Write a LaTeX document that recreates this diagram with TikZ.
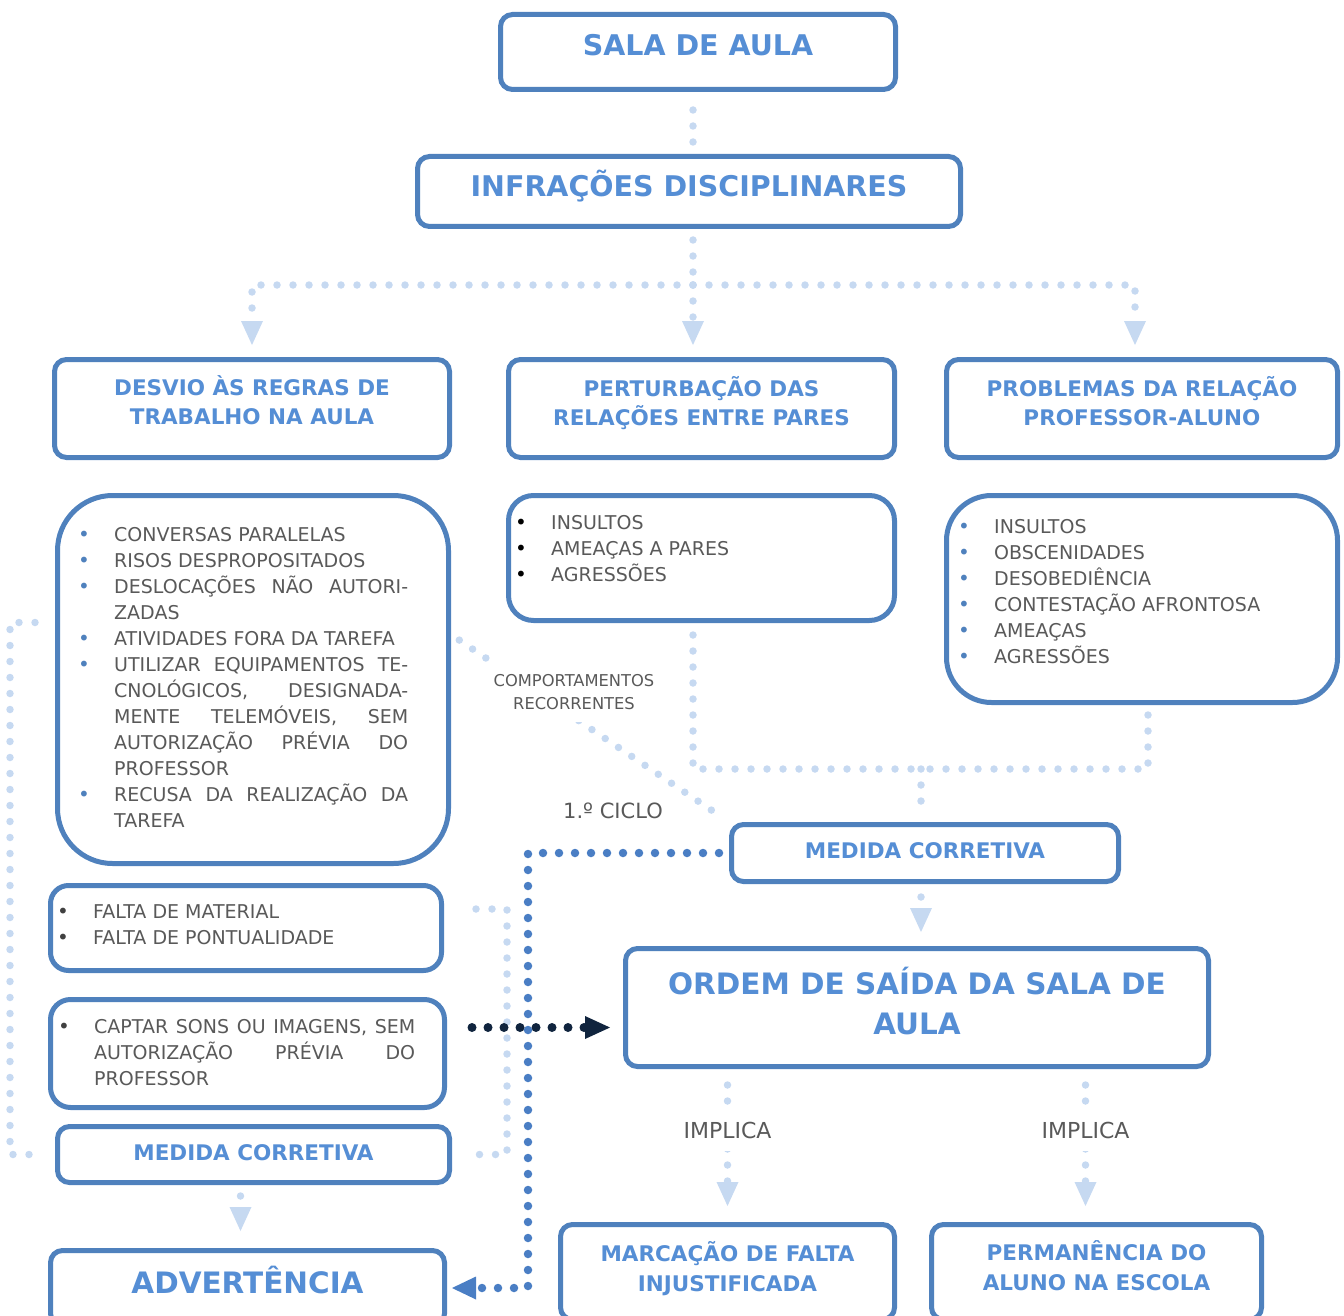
\documentclass[tikz,border=0pt]{standalone}
\usepackage{fontspec}
\setmainfont{DejaVu Sans}
\usepackage{xcolor}
\usepackage{tikz}
\usetikzlibrary{arrows.meta, calc}

\definecolor{boxblue}{HTML}{4F81BD}
\definecolor{titleblue}{HTML}{558ED5}
\definecolor{dotlight}{HTML}{C6D9F1}
\definecolor{dotblue}{HTML}{4A7EC4}
\definecolor{navy}{HTML}{10243E}
\definecolor{txtgray}{HTML}{595959}
\definecolor{bulgray}{HTML}{404040}

\newcommand{\bul}[1]{\par\noindent\hangindent=36pt\hangafter=1\hbox to 36pt{\raisebox{0pt}{\textcolor{#1}{\fontsize{20}{20}\selectfont\textbullet}}\hss}}

\begin{document}
\begin{tikzpicture}[x=1pt, y=-1pt,
    box/.style={rectangle, draw=boxblue, line width=5pt, rounded corners=12pt, fill=white, inner sep=0pt, align=center, text=titleblue},
    titlebox/.style={box, font=\fontsize{28.5}{34}\selectfont\bfseries},
    catbox/.style={box, text depth=16pt, font=\fontsize{21.5}{29}\selectfont\bfseries},
    medbox/.style={box, font=\fontsize{21.5}{30}\selectfont\bfseries},
    bigbox/.style={box, font=\fontsize{29.5}{40}\selectfont\bfseries},
    listtxt/.style={anchor=north west, inner sep=0pt, text width=#1, align=justify, text=txtgray, font=\fontsize{19}{26}\selectfont},
    note/.style={text=txtgray, align=center, inner sep=2pt},
    implica/.style={note, fill=white, font=\fontsize{22}{26}\selectfont, inner xsep=4pt, inner ysep=12pt},
    lightlink/.style={draw=dotlight, line width=7.5pt, line cap=round, dash pattern=on 0pt off 16pt},
    lightarrow/.style={lightlink, -{Triangle[length=24pt, width=22pt, line width=0pt]}},
    bluelink/.style={draw=dotblue, line width=8.5pt, line cap=round, dash pattern=on 0pt off 16pt, -{Triangle[length=24pt, width=23pt, line width=0pt]}},
    navylink/.style={draw=navy, line width=9pt, line cap=round, dash pattern=on 0pt off 16pt, -{Triangle[length=25pt, width=23pt, line width=0pt]}}
]
\useasboundingbox (0,0) rectangle (1344,1316);

\node[titlebox, text depth=14pt, minimum width=395pt, minimum height=75pt] (sala) at (698,52) {SALA DE AULA};
\node[titlebox, text depth=16pt, minimum width=543pt, minimum height=70pt] (infra) at (689,191.5) {INFRAÇÕES DISCIPLINARES};

\node[catbox, minimum width=395pt, minimum height=98pt] (desvio) at (252,408.5) {DESVIO ÀS REGRAS DE\\TRABALHO NA AULA};
\node[catbox, minimum width=386pt, minimum height=98pt] (pert) at (701.5,408.5) {PERTURBAÇÃO DAS\\RELAÇÕES ENTRE PARES};
\node[catbox, minimum width=391pt, minimum height=98pt] (probl) at (1142,408.5) {PROBLEMAS DA RELAÇÃO\\PROFESSOR-ALUNO};

\node[box, rounded corners=55pt, minimum width=391pt, minimum height=368pt] (deslist) at (253,679.5) {};
\node[box, rounded corners=25pt, minimum width=386pt, minimum height=125pt] (pertlist) at (701.5,558) {};
\node[box, rounded corners=45pt, minimum width=391pt, minimum height=207pt] (problist) at (1142,599) {};
\node[box, rounded corners=18pt, minimum width=391pt, minimum height=85pt] (falta) at (246,928) {};
\node[box, rounded corners=20pt, minimum width=394pt, minimum height=108pt] (captar) at (247.5,1053.5) {};

\node[listtxt=330pt] (destxt) at (78,515) {%
\bul{boxblue}CONVERSAS PARALELAS
\bul{boxblue}RISOS DESPROPOSITADOS
\bul{boxblue}DESLOCAÇÕES NÃO AUTORI-\linebreak ZADAS
\bul{boxblue}ATIVIDADES FORA DA TAREFA
\bul{boxblue}UTILIZAR EQUIPAMENTOS TE-\linebreak CNOLÓGICOS, DESIGNADA-\linebreak MENTE TELEMÓVEIS, SEM\linebreak AUTORIZAÇÃO PRÉVIA DO\linebreak PROFESSOR
\bul{boxblue}RECUSA DA REALIZAÇÃO DA\linebreak TAREFA\par};
\node[listtxt=360pt] (perttxt) at (515,503) {%
\bul{black}INSULTOS
\bul{black}AMEAÇAS A PARES
\bul{black}AGRESSÕES\par};
\node[listtxt=370pt] (probltxt) at (958,507) {%
\bul{boxblue}INSULTOS
\bul{boxblue}OBSCENIDADES
\bul{boxblue}DESOBEDIÊNCIA
\bul{boxblue}CONTESTAÇÃO AFRONTOSA
\bul{boxblue}AMEAÇAS
\bul{boxblue}AGRESSÕES\par};
\node[listtxt=370pt] (faltatxt) at (57,892) {%
\bul{bulgray}FALTA DE MATERIAL
\bul{bulgray}FALTA DE PONTUALIDADE\par};
\node[listtxt=357pt] (captartxt) at (58,1007) {%
\bul{bulgray}CAPTAR SONS OU IMAGENS, SEM\linebreak AUTORIZAÇÃO PRÉVIA DO\linebreak PROFESSOR\par};

\node[medbox, text depth=4pt, minimum width=392pt, minimum height=56pt] (med1) at (253.5,1154.5) {MEDIDA CORRETIVA};
\node[bigbox, text depth=16pt, minimum width=394pt, minimum height=75pt] (adv) at (247.5,1288) {ADVERTÊNCIA};
\node[medbox, text depth=4pt, minimum width=387pt, minimum height=57pt] (med2) at (925,853) {MEDIDA CORRETIVA};
\node[bigbox, text depth=14pt, minimum width=583pt, minimum height=118pt] (ordem) at (917,1007.5) {ORDEM DE SAÍDA DA SALA DE\\AULA};
\node[medbox, text depth=12pt, minimum width=334pt, minimum height=95pt] (marc) at (727.5,1272) {MARCAÇÃO DE FALTA\\INJUSTIFICADA};
\node[medbox, text depth=12pt, minimum width=330pt, minimum height=95pt] (perm) at (1096.5,1272) {PERMANÊNCIA DO\\ALUNO NA ESCOLA};

\coordinate (trunk) at (693,285);
\coordinate (jn) at (921,769);
\coordinate (lx) at (10,0);
\coordinate (rx) at (507,0);
\coordinate (bx) at (528,0);

\draw[lightlink, shorten <=18pt, shorten >=11pt] (sala.south -| trunk) -- (infra.north -| trunk);
\draw[lightlink, shorten <=11pt] (infra.south -| trunk) -- (trunk);
\draw[lightarrow, shorten >=12pt] (trunk) -| (desvio.north);
\draw[lightarrow, shorten >=12pt] (trunk) -- (pert.north -| trunk);
\draw[lightarrow, shorten >=12pt] (trunk) -| ([xshift=-7pt]probl.north);

\draw[lightlink, shorten <=12pt] (pertlist.south -| trunk) |- (jn);
\draw[lightlink, shorten <=10pt] ([xshift=6pt]problist.south) |- (jn);
\draw[lightlink, shorten >=6pt] (jn) -- (med2.north -| jn);

\draw[lightlink, shorten <=10pt, shorten >=6pt] ([yshift=45pt]deslist.east) -- (med2.north west);
\node[note, fill=white, inner xsep=4pt, inner ysep=12pt, font=\fontsize{16.3}{23}\selectfont] (recorr) at (574,692) {COMPORTAMENTOS\\RECORRENTES};
\node[note, font=\fontsize{21}{24}\selectfont] (ciclo) at (613,811) {1.º CICLO};

\draw[lightarrow, shorten <=13pt, shorten >=14pt] (med2.south -| jn) -- (ordem.north -| jn);
\draw[lightarrow, shorten <=16pt, shorten >=16pt] (ordem.south -| marc.north) -- node[implica, pos=0.4] (imp1) {IMPLICA} (marc.north);
\draw[lightarrow, shorten <=16pt, shorten >=16pt] (ordem.south -| perm.north) ++(-11,0) -- node[implica, pos=0.4] (imp2) {IMPLICA} ([xshift=-11pt]perm.north);

\draw[lightlink, shorten <=20pt, shorten >=20pt] ([yshift=57pt]deslist.west) -| (med1.west -| lx) -- (med1.west);
\draw[lightlink, shorten <=32pt, shorten >=24pt] ([yshift=19pt]falta.east) -| (med1.east -| rx) -- (med1.east);
\draw[lightarrow, shorten <=11pt, shorten >=17pt] ([xshift=-13pt]med1.south) -- ([xshift=-13pt]med1.south |- adv.north);

\draw[bluelink, shorten <=10pt, shorten >=5pt] (med2.west) -- (med2.west -| bx) |- (adv.east);
\draw[navylink, shorten <=25pt, shorten >=13pt] ([yshift=26pt]captar.east) -- ([yshift=26pt]captar.east -| ordem.west);

\end{tikzpicture}
\end{document}
